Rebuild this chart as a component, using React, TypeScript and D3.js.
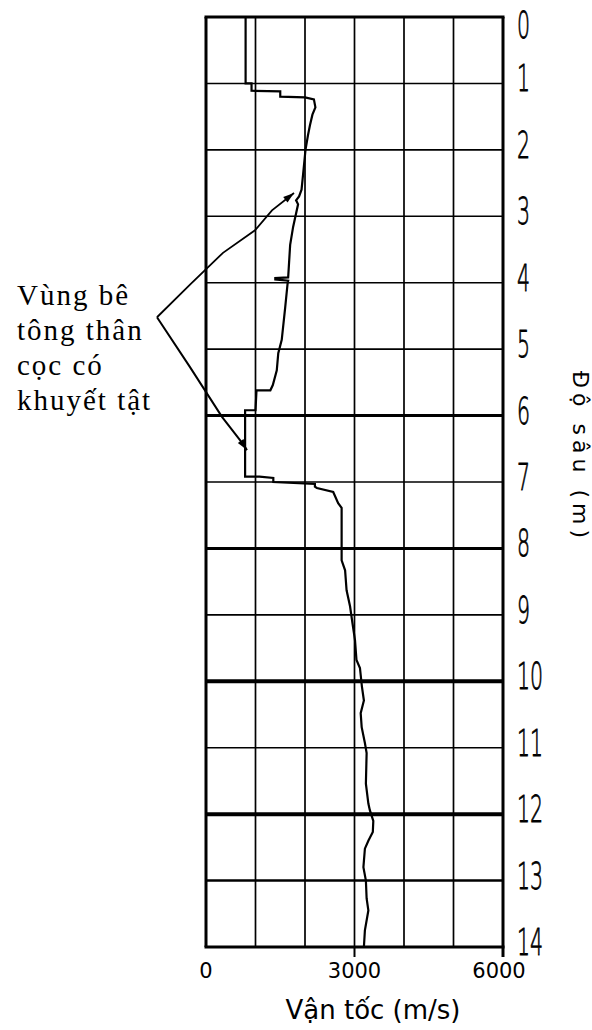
import React from "react";
import * as d3 from "d3";

// ---- data (depth in m, velocity in m/s) ----
const traceDepth = [
  0, 1.0, 1.0, 1.11, 1.12, 1.2, 1.21, 1.24, 1.36, 1.47, 1.63, 1.78, 2.0, 2.38, 2.6, 2.7, 2.76, 2.82,
  3.16, 3.43, 3.92, 3.93, 3.95, 3.97, 4.0, 4.37, 4.86, 5.06, 5.32, 5.54, 5.62, 5.62, 5.92, 5.92,
  6.92, 6.92, 6.94, 7.0, 7.03, 7.07, 7.09, 7.15, 7.32, 7.39, 8.18, 8.33, 8.63, 8.87, 9.13, 9.38,
  9.68, 9.8, 10.08, 10.29, 10.48, 10.69, 10.93, 11.08, 11.54, 11.84, 11.94, 12.1, 12.27, 12.4,
  12.52, 12.8, 13.0, 13.27, 13.45, 13.75, 14.0,
];
const traceVelocity = [
  800, 800, 920, 920, 1500, 1500, 2000, 2180, 2210, 2150, 2100, 2060, 2010, 1960, 1930, 1880, 1820, 1860,
  1760, 1700, 1660, 1400, 1400, 1660, 1650, 1600, 1530, 1460, 1430, 1350, 1300, 1020, 1000, 790,
  790, 1080, 1360, 1360, 2200, 2200, 2240, 2570, 2670, 2740, 2740, 2810, 2840, 2910, 2960, 3010,
  3040, 3110, 3150, 3190, 3125, 3145, 3210, 3245, 3230, 3280, 3310, 3380, 3370, 3280,
  3210, 3180, 3230, 3245, 3280, 3210, 3190,
];

const depthTicks = [0, 1, 2, 3, 4, 5, 6, 7, 8, 9, 10, 11, 12, 13, 14];
const heavyDepths = [6, 8, 10, 12, 13];
const heavyWidths = [3, 3, 4, 4, 2.6];
const velocityGrid = [0, 1000, 2000, 3000, 4000, 5000, 6000];
const velocityTicks = [0, 3000, 6000];

const annotationLines = ["Vùng bê", "tông thân", "cọc có", "khuyết tật"];
// annotation leader lines, in (velocity, depth)
const leaderUpperV = [-990, -323, 343, 990, 1333, 1778];
const leaderUpperD = [4.52, 4.03, 3.55, 3.21, 2.91, 2.65];
const leaderLowerV = [-990, -323, 323, 687, 828];
const leaderLowerD = [4.52, 5.27, 6.02, 6.37, 6.52];

const xTitle = "Vận tốc (m/s)";
const yTitle = "Độ sâu (m)";

export default function App() {
  const W = 592, H = 1030;
  const left = 206, right = 503, top = 17, bottom = 947;
  const x = d3.scaleLinear().domain([0, 6000]).range([left, right]);
  const y = d3.scaleLinear().domain([0, 14]).range([top, bottom]);

  const line = d3
    .line<number>()
    .x((i) => x(traceVelocity[i]))
    .y((i) => y(traceDepth[i]));
  const tracePath = line(traceDepth.map((_, i) => i)) || "";

  const upper = d3.line<number>().x((i) => x(leaderUpperV[i])).y((i) => y(leaderUpperD[i]))(
    leaderUpperV.map((_, i) => i)
  ) || "";
  const lower = d3.line<number>().x((i) => x(leaderLowerV[i])).y((i) => y(leaderLowerD[i]))(
    leaderLowerV.map((_, i) => i)
  ) || "";

  const arrowHead = (vs: number[], ds: number[]) => {
    const n = vs.length;
    const x1 = x(vs[n - 2]), y1 = y(ds[n - 2]);
    const x2 = x(vs[n - 1]), y2 = y(ds[n - 1]);
    const ang = Math.atan2(y2 - y1, x2 - x1);
    const L = 11, Wd = 3.5;
    const bx = x2 - L * Math.cos(ang), by = y2 - L * Math.sin(ang);
    const px = -Math.sin(ang) * Wd, py = Math.cos(ang) * Wd;
    return `M${x2},${y2}L${bx + px},${by + py}L${bx - px},${by - py}Z`;
  };

  const tickFont = "'DejaVu Sans', sans-serif";

  return (
    <svg
      width={W}
      height={H}
      style={{ position: "absolute", left: 0, top: 0, background: "#fff" }}
      xmlns="http://www.w3.org/2000/svg"
    >
      <rect x={0} y={0} width={W} height={H} fill="#fff" />
      {/* horizontal grid */}
      {depthTicks.map((d) => {
        const hi = heavyDepths.indexOf(d);
        return (
          <line
            key={"h" + d}
            x1={left}
            x2={right}
            y1={y(d)}
            y2={y(d)}
            stroke="#000"
            strokeWidth={hi >= 0 ? heavyWidths[hi] : 1.6}
          />
        );
      })}
      {/* vertical grid */}
      {velocityGrid.map((v) => (
        <line
          key={"v" + v}
          x1={x(v)}
          x2={x(v)}
          y1={top}
          y2={bottom}
          stroke="#000"
          strokeWidth={v === 0 || v === 6000 ? 3 : 1.7}
        />
      ))}
      {/* border top / bottom */}
      <line x1={left - 1.5} x2={right + 1.5} y1={top} y2={top} stroke="#000" strokeWidth={3} />
      <line x1={left - 1.5} x2={right + 1.5} y1={bottom} y2={bottom} stroke="#000" strokeWidth={3} />
      {/* bottom ticks */}
      {velocityTicks.filter((v) => v > 0).map((v) => (
        <line key={"t" + v} x1={x(v)} x2={x(v)} y1={bottom} y2={bottom + 10} stroke="#000" strokeWidth={v === 6000 ? 3 : 2} />
      ))}
      {velocityTicks.map((v) => (
        <text
          key={"tl" + v}
          x={x(v) - (v === 6000 ? 4 : 0)}
          y={978}
          textAnchor="middle"
          fontFamily={tickFont}
          fontSize={21}
          fill="#000"
        >
          {v}
        </text>
      ))}
      <text x={373} y={1019} textAnchor="middle" fontFamily={tickFont} fontSize={26} fill="#000">
        {xTitle}
      </text>

      {/* right depth labels */}
      {depthTicks.map((d) => {
        const cy = d === 0 ? y(d) + 7 : y(d) - 6;
        return (
          <text
            key={"dl" + d}
            transform={`translate(517,${cy + 14}) scale(0.54,1)`}
            fontFamily={tickFont}
            fontWeight={200}
            fontSize={38}
            fill="#000"
            stroke="#000"
            strokeWidth={0.8}
          >
            {d}
          </text>
        );
      })}
      <text
        transform="translate(573,457) rotate(90)"
        textAnchor="middle"
        fontFamily={tickFont}
        fontSize={22}
        letterSpacing={5}
        fill="#000"
      >
        {yTitle}
      </text>

      {/* velocity trace */}
      <path d={tracePath} fill="none" stroke="#000" strokeWidth={2.2} strokeLinejoin="miter" />

      {/* annotation */}
      <path d={upper} fill="none" stroke="#000" strokeWidth={1.8} />
      <path d={lower} fill="none" stroke="#000" strokeWidth={2} />
      <path d={arrowHead(leaderUpperV, leaderUpperD)} fill="#000" />
      <path d={arrowHead(leaderLowerV, leaderLowerD)} fill="#000" />
      {annotationLines.map((t, i) => (
        <text
          key={"a" + i}
          x={17}
          y={305 + 35 * i}
          fontFamily="'Liberation Serif', 'Times New Roman', serif"
          fontSize={29}
          letterSpacing={2}
          fill="#000"
        >
          {t}
        </text>
      ))}
    </svg>
  );
}
